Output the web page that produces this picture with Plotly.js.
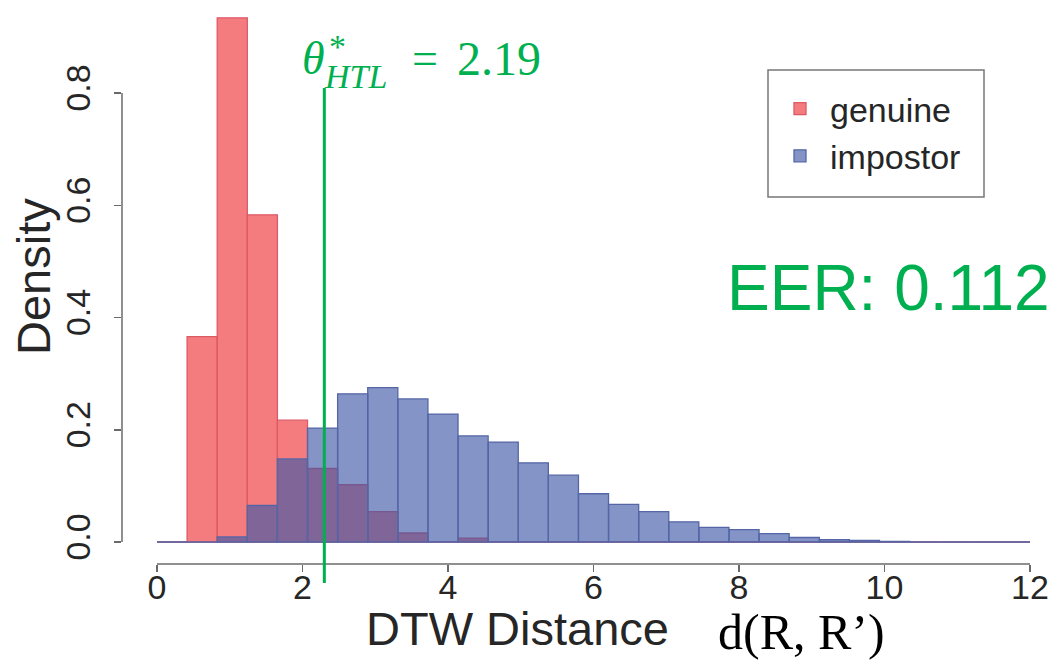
<!DOCTYPE html>
<html>
<head>
<meta charset="utf-8">
<script src="https://cdn.plot.ly/plotly-3.0.1.min.js"></script>
<style>
  html, body { margin: 0; padding: 0; background: #ffffff; }
  #chart { width: 1054px; height: 663px; }
</style>
</head>
<body>
<div id="chart"></div>
<script>
// ---------------- data ----------------
const binFrom = 0;          // histogram breaks: 0 .. 12 in 29 equal bins
const binTo = 12;
const binCount = 29;

const genuineDensity = [0, 0.366, 0.934, 0.583, 0.217, 0.131, 0.102, 0.054, 0.016, 0,
                        0.007, 0, 0, 0, 0, 0, 0, 0, 0, 0,
                        0, 0, 0, 0, 0, 0, 0, 0, 0];
const impostorDensity = [0, 0, 0.009, 0.065, 0.148, 0.203, 0.264, 0.275, 0.255, 0.228,
                         0.189, 0.178, 0.141, 0.119, 0.086, 0.067, 0.054, 0.036, 0.026, 0.022,
                         0.015, 0.008, 0.004, 0.003, 0.001, 0, 0, 0, 0];
const seriesNames = ['genuine', 'impostor'];
const thresholdDrawn = 2.30;          // position of the green threshold line
const thresholdLabel = '2.19';
const eerLabel = 'EER: 0.112';
const xTitle = 'DTW Distance';
const xTitleExtra = 'd(R, R’)';
const yTitle = 'Density';
const xTicks = [0, 2, 4, 6, 8, 10, 12];
const yTicks = [0, 0.2, 0.4, 0.6, 0.8];

// ---------------- derived bin geometry ----------------
const binWidth = (binTo - binFrom) / binCount;
const binMids = genuineDensity.map((_, i) => binFrom + (i + 0.5) * binWidth);

// ---------------- layout helpers (pixel -> paper) ----------------
const L = 122, R = 1040, T = 10, B = 564;
const W = 1054, H = 663;
const px = v => (v - L) / (R - L);
const py = v => (B - v) / (B - T);

const GREEN = '#00b050';
const AXIS = '#6a6a6a';
const TXT = '#262626';
const SANS = 'Liberation Sans, Arial, sans-serif';
const SERIF = 'Liberation Serif, Times New Roman, serif';

const traces = [
  {
    type: 'bar', name: seriesNames[0],
    x: binMids, y: genuineDensity, width: binWidth,
    marker: { color: '#f47c7e', line: { color: '#dc5a66', width: 1.3 } },
    hoverinfo: 'x+y'
  },
  {
    type: 'bar', name: seriesNames[1],
    x: binMids, y: impostorDensity, width: binWidth,
    marker: { color: 'rgba(62, 88, 168, 0.64)', line: { color: '#5566a6', width: 1.3 } },
    hoverinfo: 'x+y'
  }
];

const ann = (text, x, y, size, color, family, extra) => Object.assign({
  text, xref: 'paper', yref: 'paper', x: px(x), y: py(y),
  xanchor: 'center', yanchor: 'middle', showarrow: false,
  font: { size, color, family }
}, extra || {});

const layout = {
  width: W, height: H,
  margin: { l: L, r: W - R, t: T, b: H - B, pad: 0 },
  paper_bgcolor: '#ffffff', plot_bgcolor: '#ffffff',
  barmode: 'overlay', bargap: 0,
  font: { family: SANS, color: TXT },
  showlegend: true,
  legend: {
    x: px(770), y: py(80), xanchor: 'left', yanchor: 'top',
    bgcolor: 'rgba(0,0,0,0)', borderwidth: 0,
    font: { size: 34, color: TXT, family: SANS },
    itemwidth: 50, tracegroupgap: 0
  },
  xaxis: {
    range: [binFrom - 35 / 72.75, binFrom + (R - 157) / 72.75],
    tickvals: xTicks, ticktext: xTicks.map(String),
    ticks: 'outside', ticklen: 7, tickwidth: 1.5, tickcolor: AXIS,
    ticklabelstandoff: -14,
    showline: false, showgrid: false, zeroline: false,
    tickfont: { size: 34, color: TXT }, fixedrange: true
  },
  yaxis: {
    range: [-0.0392, 0.948],
    tickvals: yTicks, tickformat: '.1f',
    tickangle: -90,
    ticks: 'outside', ticklen: 7, tickwidth: 1.5, tickcolor: AXIS,
    ticklabelstandoff: 10,
    showline: false, showgrid: false, zeroline: false,
    tickfont: { size: 34, color: TXT },
    fixedrange: true
  },
  shapes: [
    // histogram baseline (zero-height bins drawn as a line, as R does)
    { type: 'line', layer: 'below', xref: 'x', yref: 'y',
      x0: binFrom, x1: binTo, y0: 0, y1: 0,
      line: { color: '#8d9bd0', width: 1.5 } },
    // y axis spine (first to last tick)
    { type: 'line', xref: 'paper', yref: 'y', x0: 0, x1: 0,
      y0: yTicks[0], y1: yTicks[yTicks.length - 1], line: { color: AXIS, width: 1.5 } },
    // x axis spine (first to last tick)
    { type: 'line', xref: 'x', yref: 'paper', x0: xTicks[0], x1: xTicks[xTicks.length - 1],
      y0: 0, y1: 0, line: { color: AXIS, width: 1.5 } },
    // threshold line
    { type: 'line', xref: 'x', yref: 'paper', x0: thresholdDrawn, x1: thresholdDrawn,
      y0: py(583), y1: py(88), line: { color: GREEN, width: 3 } },
    // legend frame
    { type: 'rect', xref: 'paper', yref: 'paper', layer: 'above',
      x0: px(768), x1: px(984), y0: py(197), y1: py(70),
      line: { color: '#777777', width: 1.5 }, fillcolor: 'rgba(0,0,0,0)' }
  ],
  annotations: [
    ann(eerLabel, 888, 288, 64, GREEN, SANS),
    ann(xTitle, 517, 629, 47, TXT, SANS),
    ann(xTitleExtra, 801, 632, 50, '#000000', SERIF),
    ann(yTitle, 33, 277, 47, TXT, SANS, { textangle: -90 }),
    // threshold label: theta*_HTL = 2.19
    ann('<i>θ</i>', 313, 58, 46, GREEN, SERIF),
    ann('*', 337, 46, 34, GREEN, SERIF),
    ann('<i>HTL</i>', 322, 76, 34, GREEN, SERIF, { xanchor: 'left' }),
    ann('=', 410, 58, 46, GREEN, SERIF, { xanchor: 'left' }),
    ann(thresholdLabel, 455, 58, 48, GREEN, SERIF, { xanchor: 'left' })
  ]
};

Plotly.newPlot('chart', traces, layout, { displayModeBar: false, staticPlot: true });
</script>
</body>
</html>
